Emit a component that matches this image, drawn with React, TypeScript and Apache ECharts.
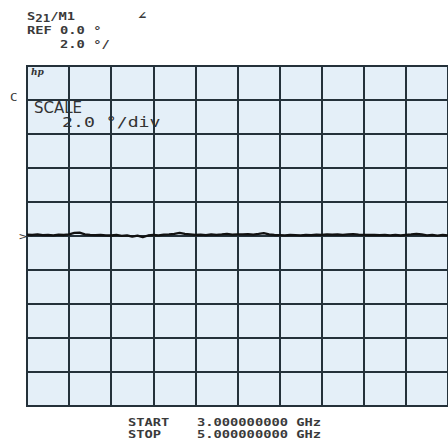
import React, { useEffect, useRef } from "react";
import * as echarts from "echarts";

const startGHz = 3.0;
const stopGHz = 5.0;
const stepGHz = 0.025;
const phaseDeg = [
  0.08, 0.06, 0.09, 0.05, 0.07, 0.04, 0.08, 0.06, 0.10, 0.18,
  0.20, 0.10, 0.07, 0.05, 0.06, 0.04, 0.03, 0.06, 0.01, 0.04,
  -0.04, 0.02, -0.07, 0.03, 0.06, 0.04, 0.08, 0.09, 0.13, 0.19,
  0.12, 0.10, 0.06, 0.08, 0.05, 0.10, 0.07, 0.09, 0.12, 0.08,
  0.10, 0.09, 0.11, 0.08, 0.12, 0.17, 0.10, 0.06, 0.05, 0.04,
  0.06, 0.05, 0.04, 0.06, 0.05, 0.08, 0.07, 0.09, 0.08, 0.10,
  0.07, 0.09, 0.11, 0.08, 0.07, 0.06, 0.07, 0.05, 0.06, 0.04,
  0.06, 0.03, 0.07, 0.09, 0.13, 0.10, 0.04, 0.07, 0.02, 0.06,
  0.04,
];
const headerLines = ["REF 0.0 °", "2.0 °/"];
const scaleLines = ["SCALE", "2.0 °/div"];
const footerLines = [
  ["START", "3.000000000 GHz"],
  ["STOP", "5.000000000 GHz"],
];

const MONO = "DejaVu Sans Mono";
const TXT = "#3a3a3a";

export default function App() {
  const ref = useRef<HTMLDivElement>(null);
  useEffect(() => {
    if (!ref.current) return;
    const chart = echarts.init(ref.current, undefined, { renderer: "svg" });
    const data = phaseDeg.map((v, i) => [startGHz + i * stepGHz, v]);
    const gridLine = { show: true, lineStyle: { color: "#24313a", width: 2 } };
    const monoText = (x: number, y: number, text: string, extra: any = {}) => ({
      type: "text",
      x,
      y,
      scaleX: 1.25,
      style: {
        text,
        fontFamily: MONO,
        fontSize: 11,
        fontWeight: "bold",
        fill: TXT,
        textVerticalAlign: "middle",
        ...extra,
      },
    });
    chart.setOption({
      animation: false,
      backgroundColor: "#ffffff",
      grid: {
        left: 27,
        top: 66,
        width: 427,
        height: 340,
        show: true,
        backgroundColor: "#e4eff8",
        borderColor: "#24313a",
        borderWidth: 2,
      },
      xAxis: {
        type: "value",
        min: startGHz,
        max: stopGHz,
        interval: 0.2,
        axisLine: { show: false },
        axisTick: { show: false },
        axisLabel: { show: false },
        splitLine: gridLine,
      },
      yAxis: {
        type: "value",
        min: -10,
        max: 10,
        interval: 2,
        axisLine: { show: false },
        axisTick: { show: false },
        axisLabel: { show: false },
        splitLine: gridLine,
      },
      series: [
        {
          type: "line",
          data,
          showSymbol: false,
          smooth: false,
          lineStyle: { color: "#111111", width: 2.3 },
        },
      ],
      graphic: [
        {
          type: "text",
          x: 27,
          y: 16,
          scaleX: 1.25,
          style: {
            text: "S{sub|21}/M1",
            fontFamily: MONO,
            fontSize: 11,
            fontWeight: "bold",
            fill: TXT,
            textVerticalAlign: "middle",
            rich: {
              sub: {
                fontFamily: MONO,
                fontSize: 10,
                fontWeight: "bold",
                fill: TXT,
                padding: [5, 0, 0, 0],
              },
            },
          },
        },
        monoText(138, 15, "∠"),
        monoText(27, 30, headerLines[0]),
        monoText(27, 44, "    " + headerLines[1]),
        {
          type: "text",
          x: 31,
          y: 72,
          style: {
            text: "hp",
            fontFamily: "DejaVu Serif",
            fontStyle: "italic",
            fontWeight: "bold",
            fontSize: 9,
            fill: "#333",
            textVerticalAlign: "middle",
          },
        },
        monoText(10, 98, "C", { fontWeight: "normal", fontSize: 10 }),
        {
          type: "text",
          x: 34,
          y: 108,
          style: {
            text: scaleLines[0],
            fontFamily: "DejaVu Sans",
            fontSize: 15,
            fill: "#333",
            textVerticalAlign: "middle",
          },
        },
        {
          type: "text",
          x: 62,
          y: 122,
          scaleX: 1.3,
          style: {
            text: scaleLines[1],
            fontFamily: MONO,
            fontSize: 14,
            fill: "#333",
            textVerticalAlign: "middle",
          },
        },
        monoText(19, 236, ">", { fontWeight: "normal", fontSize: 11 }),
        monoText(128, 422, footerLines[0][0]),
        monoText(197, 422, footerLines[0][1]),
        monoText(128, 434, footerLines[1][0]),
        monoText(197, 434, footerLines[1][1]),
      ],
    });
    return () => chart.dispose();
  }, []);
  return (
    <div
      ref={ref}
      style={{ position: "fixed", left: 0, top: 0, width: 448, height: 442 }}
    />
  );
}
